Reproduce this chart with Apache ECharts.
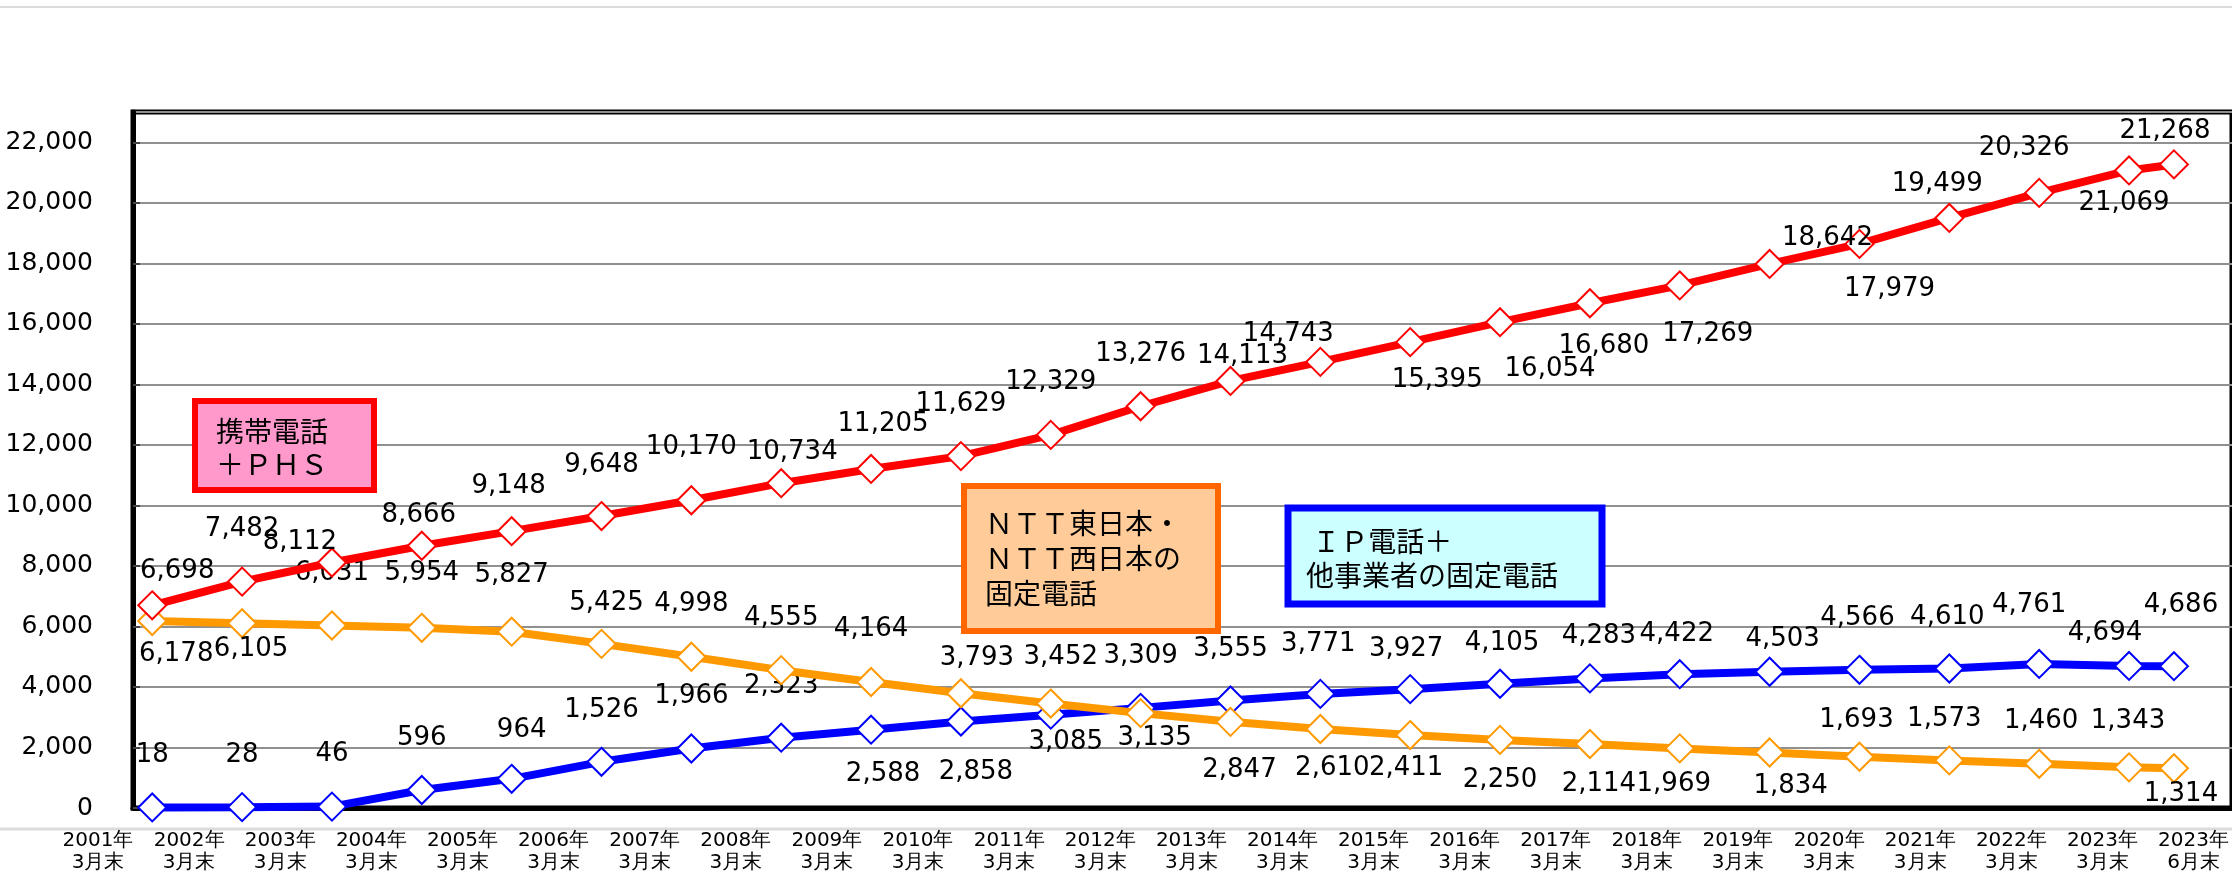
<!DOCTYPE html>
<html>
<head>
<meta charset="utf-8">
<script src="https://cdn.jsdelivr.net/npm/echarts@6/dist/echarts.min.js"></script>
<style>
  html, body { margin: 0; padding: 0; background: #fff; }
  #main { width: 2232px; height: 874px; }
</style>
</head>
<body>
<div id="main"></div>
<script>
// 時点ラベル
var xLabels = ['2001年\n3月末', '2002年\n3月末', '2003年\n3月末', '2004年\n3月末', '2005年\n3月末', '2006年\n3月末',
  '2007年\n3月末', '2008年\n3月末', '2009年\n3月末', '2010年\n3月末', '2011年\n3月末', '2012年\n3月末',
  '2013年\n3月末', '2014年\n3月末', '2015年\n3月末', '2016年\n3月末', '2017年\n3月末', '2018年\n3月末',
  '2019年\n3月末', '2020年\n3月末', '2021年\n3月末', '2022年\n3月末', '2023年\n3月末', '2023年\n6月末'];
// 横軸上の位置（最後の6月末は半目盛り）
var periods = [2001, 2002, 2003, 2004, 2005, 2006, 2007, 2008, 2009, 2010, 2011, 2012,
  2013, 2014, 2015, 2016, 2017, 2018, 2019, 2020, 2021, 2022, 2023, 2023.5];

// 携帯電話＋ＰＨＳ（万）
var mobile = [6698, 7482, 8112, 8666, 9148, 9648, 10170, 10734, 11205, 11629, 12329, 13276,
  14113, 14743, 15395, 16054, 16680, 17269, 17979, 18642, 19499, 20326, 21069, 21268];
// ＮＴＴ東日本・ＮＴＴ西日本の固定電話
var ntt = [6178, 6105, 6031, 5954, 5827, 5425, 4998, 4555, 4164, 3793, 3452, 3135,
  2847, 2610, 2411, 2250, 2114, 1969, 1834, 1693, 1573, 1460, 1343, 1314];
// ＩＰ電話＋他事業者の固定電話
var ipPhone = [18, 28, 46, 596, 964, 1526, 1966, 2323, 2588, 2858, 3085, 3309,
  3555, 3771, 3927, 4105, 4283, 4422, 4503, 4566, 4610, 4761, 4694, 4686];

var yTicks = { min: 0, max: 23000, interval: 2000 };

// ラベル位置（点からのずれ px）
var mobileLabelOffset = [[25,-34],[0,-52],[-32,-20],[-3,-31],[-3,-45],[0,-51],[0,-53],[11,-31],[12,-45],[0,-52],[0,-53],[0,-52],
  [12,-25],[-32,-28],[27,38],[50,47],[14,43],[28,49],[120,25],[-32,-6],[-12,-34],[-15,-45],[-5,33],[-9,-33]];
var nttLabelOffset = [[24,33],[9,26],[0,-52],[0,-55],[0,-56],[5,-41],[0,-53],[0,-52],[0,-53],[16,-35],[10,-46],[14,25],
  [9,48],[12,39],[-4,33],[0,40],[9,40],[-6,36],[21,34],[-3,-37],[-5,-41],[2,-43],[-1,-46],[7,26]];
var ipLabelOffset = [[0,-52],[0,-52],[0,-52],[0,-52],[10,-49],[0,-52],[0,-52],[0,-51],[12,45],[15,51],[15,28],[0,-52],
  [0,-51],[-2,-50],[-4,-40],[2,-41],[9,-42],[-3,-40],[13,-32],[-2,-52],[-2,-51],[-10,-59],[-24,-33],[7,-61]];

function fmt(v) { return Number(v).toLocaleString('en-US'); }

function buildData(values, offsets) {
  return values.map(function (v, i) {
    return { value: [periods[i], v], label: { offset: offsets[i] } };
  });
}

function lineSeries(name, color, values, offsets, z) {
  return {
    name: name,
    type: 'line',
    xAxisIndex: 0,
    yAxisIndex: 0,
    z: z,
    data: buildData(values, offsets),
    symbol: 'diamond',
    symbolSize: 28,
    lineStyle: { color: color, width: 8 },
    itemStyle: { color: '#fff', borderColor: color, borderWidth: 2 },
    label: {
      show: true,
      position: 'inside',
      formatter: function (p) { return fmt(p.value[1]); },
      fontFamily: 'DejaVu Sans',
      fontSize: 26,
      color: '#000'
    },
    emphasis: { disabled: true },
    animation: false
  };
}

var myChart = echarts.init(document.getElementById('main'));
myChart.setOption({
  backgroundColor: '#fff',
  animation: false,
  grid: [
    { left: 133, top: 112, width: 2105, bottom: 66, show: true, borderColor: '#000', borderWidth: 5, containLabel: false },
    { left: 98, top: 112, width: 2102, bottom: 66, show: false, containLabel: false }
  ],
  xAxis: [
    {
      type: 'value', gridIndex: 0, min: 2000.786, max: 2024.146,
      axisLine: { show: true, lineStyle: { color: '#000', width: 5 } },
      axisTick: { show: false }, axisLabel: { show: false }, splitLine: { show: false }
    },
    {
      type: 'category', gridIndex: 1, data: xLabels, boundaryGap: false,
      axisLine: { show: false }, axisTick: { show: false }, splitLine: { show: false },
      axisLabel: { interval: 0, margin: 22, fontFamily: 'DejaVu Sans', fontSize: 20, lineHeight: 22, color: '#000' }
    }
  ],
  yAxis: [
    {
      type: 'value', gridIndex: 0, min: yTicks.min, max: yTicks.max, interval: yTicks.interval,
      axisLine: { show: true, lineStyle: { color: '#000', width: 5 } },
      axisTick: { show: true, inside: true, length: 7, lineStyle: { color: '#444', width: 2 } },
      axisLabel: { showMaxLabel: false, margin: 40, fontFamily: 'DejaVu Sans', fontSize: 25, color: '#000', formatter: fmt },
      splitLine: { show: true, lineStyle: { color: '#909090', width: 2 } }
    },
    { type: 'value', gridIndex: 1, show: false, min: 0, max: 1 }
  ],
  series: [
    lineSeries('ＩＰ電話＋他事業者の固定電話', '#0000FF', ipPhone, ipLabelOffset, 2),
    lineSeries('ＮＴＴ東日本・ＮＴＴ西日本の固定電話', '#FF9900', ntt, nttLabelOffset, 3),
    lineSeries('携帯電話＋ＰＨＳ', '#FF0000', mobile, mobileLabelOffset, 4)
  ],
  graphic: [
    { type: 'line', shape: { x1: 0, y1: 7, x2: 2232, y2: 7 }, style: { stroke: '#dcdcdc', lineWidth: 2 }, z: 0 },
    { type: 'line', shape: { x1: 0, y1: 829, x2: 2232, y2: 829 }, style: { stroke: '#dcdcdc', lineWidth: 3 }, z: 0 },
    { type: 'rect', shape: { x: 195, y: 401, width: 179, height: 89 }, style: { fill: '#FF99CC', stroke: '#FF0000', lineWidth: 6 }, z: 10 },
    { type: 'text', x: 216, y: 415, z: 11,
      style: { text: '携帯電話\n＋ＰＨＳ', font: '28px "Noto Sans CJK JP"', fill: '#000', lineHeight: 33, verticalAlign: 'top' } },
    { type: 'rect', shape: { x: 964, y: 486, width: 254, height: 145 }, style: { fill: '#FFCC99', stroke: '#FF6600', lineWidth: 6 }, z: 10 },
    { type: 'text', x: 985, y: 506, z: 11,
      style: { text: 'ＮＴＴ東日本・\nＮＴＴ西日本の\n固定電話', font: '28px "Noto Sans CJK JP"', fill: '#000', lineHeight: 35, verticalAlign: 'top' } },
    { type: 'rect', shape: { x: 1288, y: 508, width: 314, height: 96 }, style: { fill: '#CCFFFF', stroke: '#0000FF', lineWidth: 7 }, z: 10 },
    { type: 'text', x: 1306, y: 524, z: 11,
      style: { text: ' ＩＰ電話＋\n他事業者の固定電話', font: '28px "Noto Sans CJK JP"', fill: '#000', lineHeight: 34, verticalAlign: 'top' } }
  ]
});
</script>
</body>
</html>
